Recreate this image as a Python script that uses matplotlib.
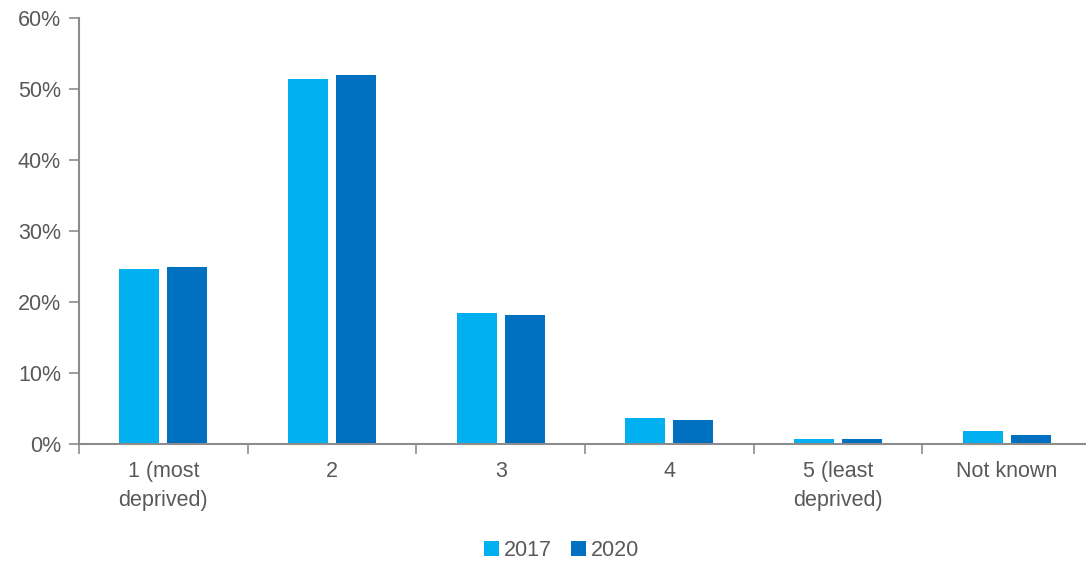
import matplotlib.pyplot as plt
import numpy as np
from matplotlib.ticker import PercentFormatter

plt.rcParams['font.family'] = ['Liberation Sans', 'DejaVu Sans']

categories = ['1 (most\ndeprived)', '2', '3', '4', '5 (least\ndeprived)', 'Not known']
share_2017 = [24.6, 51.4, 18.4, 3.7, 0.7, 1.8]
share_2020 = [24.9, 51.9, 18.1, 3.4, 0.7, 1.3]
years = ['2017', '2020']
colors = ['#00B0F0', '#0070C0']

text_grey = '#595959'
axis_grey = '#8C8C8C'
fs = 15.5

fig = plt.figure(figsize=(10.86, 5.66), dpi=100)
ax = fig.add_axes([0.0727, 0.2155, 0.932, 0.7532])

x = np.arange(len(categories))
width = 0.237
offset = 0.142
ax.bar(x - offset, share_2017, width, color=colors[0], label=years[0])
ax.bar(x + offset, share_2020, width, color=colors[1], label=years[1])

ax.set_xlim(-0.5, len(categories) - 0.5)
ax.set_ylim(0, 60)
ax.set_yticks(np.arange(0, 61, 10))
ax.yaxis.set_major_formatter(PercentFormatter(decimals=0))

# category labels sit between boundary ticks
ax.set_xticks(np.arange(len(categories) + 1) - 0.5)
ax.set_xticklabels([])
ax.set_xticks(x, minor=True)
ax.set_xticklabels(categories, minor=True, linespacing=1.5)
ax.tick_params(axis='x', which='minor', length=0, pad=12,
               labelsize=fs, labelcolor=text_grey)
ax.tick_params(axis='x', which='major', length=7, width=1.2, color=axis_grey)
ax.tick_params(axis='y', length=7, width=1.2, color=axis_grey,
               labelsize=fs, labelcolor=text_grey, pad=6)

for side in ['top', 'right']:
    ax.spines[side].set_visible(False)
for side in ['left', 'bottom']:
    ax.spines[side].set_color(axis_grey)
    ax.spines[side].set_linewidth(1.5)

fig.legend(loc='center', bbox_to_anchor=(0.517, 0.027), ncol=2, frameon=False,
           fontsize=fs, labelcolor=text_grey, handlelength=0.7, handleheight=0.7,
           handletextpad=0.2, columnspacing=0.9)

fig.savefig('out.png', dpi=100)
